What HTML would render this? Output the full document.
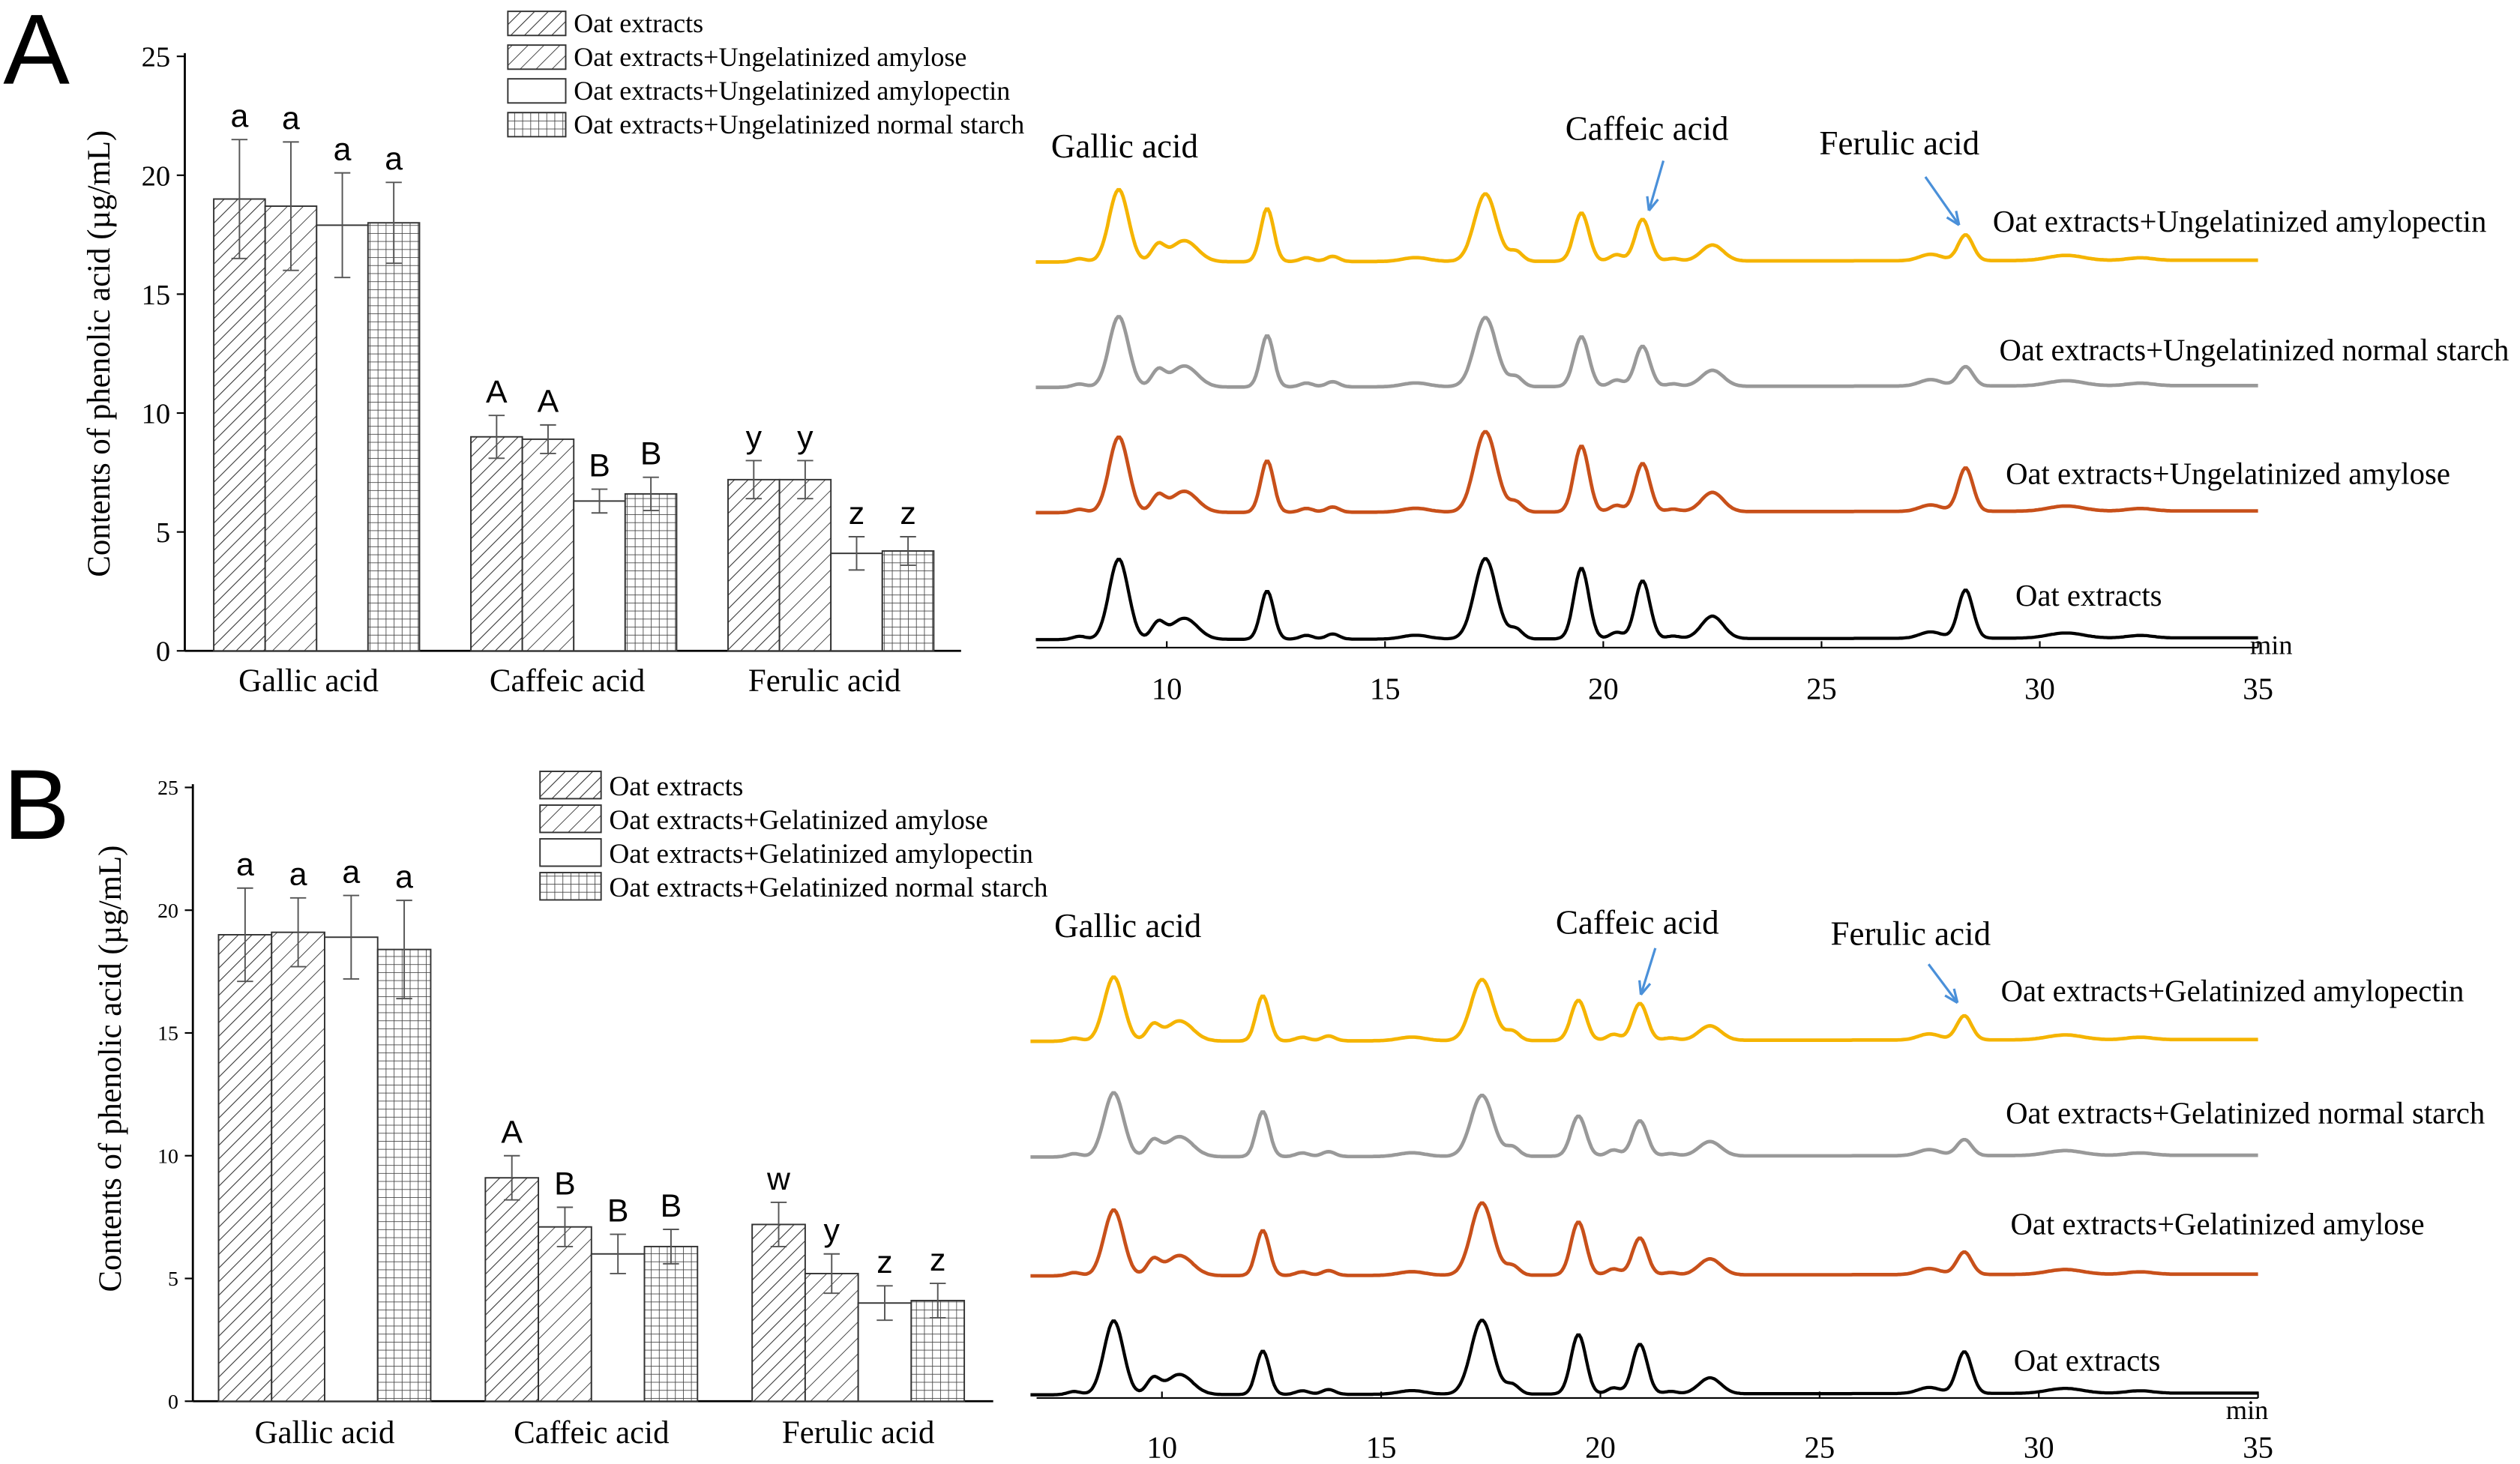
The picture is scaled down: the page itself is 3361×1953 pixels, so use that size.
<!DOCTYPE html>
<html><head><meta charset="utf-8">
<style>html,body{margin:0;padding:0;background:#fff;}svg{display:block;}</style>
</head><body>
<svg id="s" xmlns="http://www.w3.org/2000/svg" width="3361" height="1953" viewBox="0 0 1568 911">
<defs>
<pattern id="h1" patternUnits="userSpaceOnUse" width="6" height="6" patternTransform="rotate(45)"><rect width="6" height="6" fill="#fff"/><line x1="0" y1="0" x2="0" y2="6" stroke="#333" stroke-width="1"/></pattern>
<pattern id="h2" patternUnits="userSpaceOnUse" width="7" height="7" patternTransform="rotate(45)"><rect width="7" height="7" fill="#fff"/><line x1="0" y1="0" x2="0" y2="7" stroke="#444" stroke-width="0.9"/></pattern>
<pattern id="h4" patternUnits="userSpaceOnUse" width="5" height="5"><rect width="5" height="5" fill="#fff"/><path d="M0 0H5M0 0V5" stroke="#444" stroke-width="0.8" fill="none"/></pattern>
</defs>
<g id="g" font-family="Liberation Serif, serif" fill="#000"></g>
</svg>
<script>
const g=document.getElementById('g');const NS='http://www.w3.org/2000/svg';
function el(t,a,txt){const e=document.createElementNS(NS,t);for(const k in a)e.setAttribute(k,a[k]);if(txt!=null)e.textContent=txt;g.appendChild(e);return e;}
const fills=['url(#h1)','url(#h2)','#fff','url(#h4)'];
function bars(o){
 const y=v=>o.y0-(o.y0-o.y25)*v/25;
 el('line',{x1:o.ax,y1:o.y25-2,x2:o.ax,y2:o.y0,stroke:'#000','stroke-width':1.3});
 el('line',{x1:o.ax,y1:o.y0,x2:o.ax2,y2:o.y0,stroke:'#000','stroke-width':1.3});
 for(let v=0;v<=25;v+=5){el('line',{x1:o.ax-5,y1:y(v),x2:o.ax,y2:y(v),stroke:'#000'});
  el('text',{x:o.ax-9,y:y(v)+o.tf*0.35,'font-size':o.tf,'text-anchor':'end'},v);}
 o.groups.forEach((gr,gi)=>{gr.v.forEach((v,i)=>{const x=gr.x+i*o.bw;
  el('rect',{x:x,y:y(v),width:o.bw,height:o.y0-y(v),fill:fills[i],stroke:'#333','stroke-width':0.9});
  const e=gr.e[i],cx=x+o.bw/2;
  el('path',{d:`M${cx} ${y(v+e)}V${y(v-e)}M${cx-5} ${y(v+e)}H${cx+5}M${cx-5} ${y(v-e)}H${cx+5}`,stroke:'#555','stroke-width':0.9,fill:'none'});
  el('text',{x:cx,y:y(v+e)-8,'font-size':20,'text-anchor':'middle','font-family':'Liberation Sans, sans-serif'},gr.l[i]);});
  el('text',{x:gr.c,y:o.cy,'font-size':20,'text-anchor':'middle'},gr.n);});
 el('text',{x:0,y:0,'font-size':20,'text-anchor':'middle',transform:`translate(${o.ylx},${o.yly}) rotate(-90)`},'Contents of phenolic acid (µg/mL)');
 o.leg.forEach((t,i)=>{el('rect',{x:o.lx,y:o.ly+i*o.ld,width:o.lw,height:o.lh,fill:fills[i],stroke:'#333','stroke-width':0.9});
  el('text',{x:o.lx+o.lw+5,y:o.ly+i*o.ld+o.lh-2,'font-size':o.lf},t);});
}
bars({ax:115,ax2:598,y0:405,y25:35,tf:18,bw:32,cy:430,ylx:68,yly:220,
 groups:[{x:133,c:192,n:'Gallic acid',v:[19,18.7,17.9,18],e:[2.5,2.7,2.2,1.7],l:['a','a','a','a']},
 {x:293,c:353,n:'Caffeic acid',v:[9,8.9,6.3,6.6],e:[0.9,0.6,0.5,0.7],l:['A','A','B','B']},
 {x:453,c:513,n:'Ferulic acid',v:[7.2,7.2,4.1,4.2],e:[0.8,0.8,0.7,0.6],l:['y','y','z','z']}],
 leg:['Oat extracts','Oat extracts+Ungelatinized amylose','Oat extracts+Ungelatinized amylopectin','Oat extracts+Ungelatinized normal starch'],lx:316,ly:7,ld:21,lw:36,lh:15,lf:16.8});
bars({ax:120,ax2:618,y0:872,y25:490,tf:13,bw:33,cy:898,ylx:75,yly:665,
 groups:[{x:136,c:202,n:'Gallic acid',v:[19,19.1,18.9,18.4],e:[1.9,1.4,1.7,2],l:['a','a','a','a']},
 {x:302,c:368,n:'Caffeic acid',v:[9.1,7.1,6,6.3],e:[0.9,0.8,0.8,0.7],l:['A','B','B','B']},
 {x:468,c:534,n:'Ferulic acid',v:[7.2,5.2,4,4.1],e:[0.9,0.8,0.7,0.7],l:['w','y','z','z']}],
 leg:['Oat extracts','Oat extracts+Gelatinized amylose','Oat extracts+Gelatinized amylopectin','Oat extracts+Gelatinized normal starch'],lx:336,ly:480,ld:21,lw:38,lh:17,lf:17.4});
el('text',{x:2,y:52,'font-size':62,'font-family':'Liberation Sans, sans-serif'},'A');
el('text',{x:2,y:522,'font-size':62,'font-family':'Liberation Sans, sans-serif'},'B');
const base=[[8.9,1,.22],[9.8,.25,.15],[10.4,.33,.3],[12.3,.65,.15],[13.2,.06,.15],[13.8,.08,.15],[15.7,.06,.3],[17.3,1,.25],[18,.15,.15],[19.5,.9,.17],[20.3,.1,.15],[20.9,.75,.17],[21.6,.04,.15],[22.5,.3,.25],[27.5,.1,.25],[28.3,.62,.17],[30.6,.08,.4],[32.3,.04,.3]];
function chrom(x10,x35,yAxis,tickY,minX,minY,traces){
 const px=t=>x10+(t-10)*(x35-x10)/25;
 el('line',{x1:645,y1:yAxis,x2:x35,y2:yAxis,stroke:'#000','stroke-width':1});
 for(let t=10;t<=35;t+=5){el('line',{x1:px(t),y1:yAxis,x2:px(t),y2:yAxis-4,stroke:'#000'});el('text',{x:px(t),y:tickY,'font-size':19,'text-anchor':'middle'},t);}
 el('text',{x:minX,y:minY,'font-size':17},'min');
 traces.forEach(tr=>{let d='';for(let t=7;t<=35;t+=0.04){let v=0;base.forEach((p,i)=>{const h=(tr.h[i]!=null?tr.h[i]:p[1]*tr.s);v+=h*Math.exp(-((t-p[0])**2)/(2*p[2]*p[2]));});
  if(t>7.5&&t<8.6)v+=2*Math.exp(-((t-8)**2)/0.05);
  const yy=tr.b-v-(t-7)*0.04;d+=(d?'L':'M')+px(t).toFixed(1)+' '+yy.toFixed(1);}
  el('path',{d:d,fill:'none',stroke:tr.c,'stroke-width':tr.w||2.2});
  el('text',{x:tr.lx,y:tr.ly,'font-size':19},tr.t);});
}
function H(a){const o=[];o[0]=a[0];o[3]=a[1];o[7]=a[2];o[9]=a[3];o[11]=a[4];o[13]=a[5];o[15]=a[6];return o;}
chrom(726,1405,403,435,1400,407,[
 {c:'#f5b400',b:163,s:40,h:H([45,33,42,30,26,10,16]),t:'Oat extracts+Ungelatinized  amylopectin',lx:1240,ly:144},
 {c:'#999',b:241,s:40,h:H([44,32,43,31,25,10,12]),t:'Oat extracts+Ungelatinized normal starch',lx:1244,ly:224},
 {c:'#c8501a',b:319,s:40,h:H([47,32,50,41,30,12,27]),t:'Oat extracts+Ungelatinized  amylose',lx:1248,ly:301},
 {c:'#000',b:398,s:40,h:H([50,30,50,44,36,14,30]),t:'Oat extracts',lx:1254,ly:377,w:2}]);
chrom(723,1405,870,907,1385,883,[
 {c:'#f5b400',b:648,s:38,h:H([40,28,38,25,23,9,15]),t:'Oat extracts+Gelatinized amylopectin',lx:1245,ly:623},
 {c:'#999',b:720,s:38,h:H([40,28,38,25,22,9,10]),t:'Oat extracts+Gelatinized normal starch',lx:1248,ly:699},
 {c:'#c8501a',b:794,s:38,h:H([41,28,45,33,23,10,14]),t:'Oat extracts+Gelatinized amylose',lx:1251,ly:768},
 {c:'#000',b:868,s:38,h:H([46,27,46,37,31,10,26]),t:'Oat extracts',lx:1253,ly:853,w:2}]);
[['Gallic acid',654,98],['Caffeic acid',974,87],['Ferulic acid',1132,96],['Gallic acid',656,583],['Caffeic acid',968,581],['Ferulic acid',1139,588]].forEach(a=>el('text',{x:a[1],y:a[2],'font-size':21},a[0]));
function arrow(x1,y1,x2,y2){el('line',{x1,y1,x2,y2,stroke:'#4a90d9','stroke-width':1.5});const a=Math.atan2(y2-y1,x2-x1),L=9;
 el('path',{d:`M${x2} ${y2}L${x2-L*Math.cos(a-0.4)} ${y2-L*Math.sin(a-0.4)}M${x2} ${y2}L${x2-L*Math.cos(a+0.4)} ${y2-L*Math.sin(a+0.4)}`,stroke:'#4a90d9','stroke-width':1.5,fill:'none'});}
arrow(1035,100,1026,131);arrow(1198,110,1219,140);arrow(1030,590,1021,619);arrow(1200,600,1218,624);
</script>
</body></html>
